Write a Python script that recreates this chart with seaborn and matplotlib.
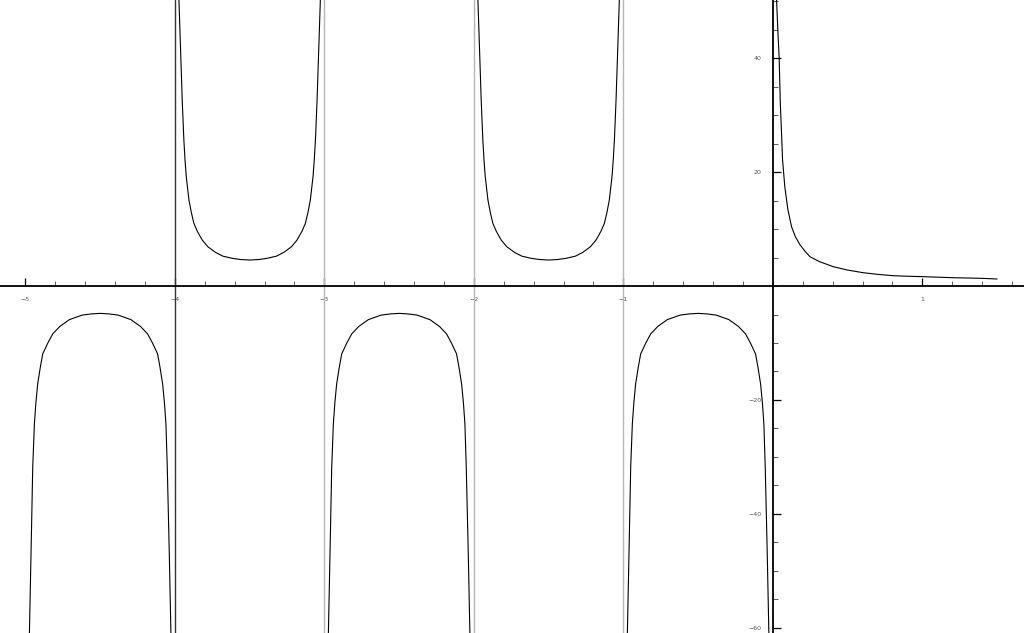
import numpy as np
import pandas as pd
import matplotlib
matplotlib.use("Agg")
import matplotlib.pyplot as plt
import seaborn as sns

# values, one list pair per branch
b1_x = [-4.975, -4.973, -4.962, -4.951, -4.940, -4.930, -4.918, -4.900, -4.884, -4.850,
        -4.817, -4.770, -4.706, -4.620, -4.560, -4.500, -4.440, -4.380, -4.294,
        -4.230, -4.183, -4.150, -4.116, -4.100, -4.082, -4.070, -4.060, -4.051,
        -4.038, -4.027, -4.025]
b1_y = [-63.0, -60.5, -46.4, -31.8, -24.2, -20.5, -17.2, -14.2, -11.9, -10.0,
        -8.4, -7.1, -5.9, -5.1, -4.9, -4.8, -4.9, -5.1, -5.9,
        -7.1, -8.4, -10.0, -11.9, -14.2, -17.2, -20.5, -24.2, -31.8,
        -46.4, -60.5, -63.0]

b2_x = [-3.975, -3.973, -3.962, -3.951, -3.940, -3.932, -3.924, -3.906, -3.890, -3.873,
        -3.850, -3.817, -3.780, -3.728, -3.680, -3.617, -3.560, -3.500, -3.440,
        -3.383, -3.320, -3.272, -3.220, -3.183, -3.150, -3.127, -3.110, -3.094,
        -3.076, -3.068, -3.060, -3.049, -3.038, -3.027, -3.025]
b2_y = [53.0, 50.2, 41.4, 32.6, 25.6, 22.0, 19.2, 15.1, 12.9, 11.0,
        9.6, 8.07, 6.9, 5.9, 5.25, 4.86, 4.65, 4.56, 4.65,
        4.86, 5.25, 5.9, 6.9, 8.07, 9.6, 11.0, 12.9, 15.1,
        19.2, 22.0, 25.6, 32.6, 41.4, 50.2, 53.0]

b3_x = [-2.975, -2.973, -2.962, -2.951, -2.940, -2.930, -2.918, -2.900, -2.884, -2.850,
        -2.817, -2.770, -2.706, -2.620, -2.560, -2.500, -2.440, -2.380, -2.294,
        -2.230, -2.183, -2.150, -2.116, -2.100, -2.082, -2.070, -2.060, -2.051,
        -2.038, -2.027, -2.025]
b3_y = [-63.0, -60.5, -46.4, -31.8, -24.2, -20.5, -17.2, -14.2, -11.9, -10.0,
        -8.4, -7.1, -5.9, -5.1, -4.9, -4.8, -4.9, -5.1, -5.9,
        -7.1, -8.4, -10.0, -11.9, -14.2, -17.2, -20.5, -24.2, -31.8,
        -46.4, -60.5, -63.0]

b4_x = [-1.975, -1.973, -1.962, -1.951, -1.940, -1.932, -1.924, -1.906, -1.890, -1.873,
        -1.850, -1.817, -1.780, -1.728, -1.680, -1.617, -1.560, -1.500, -1.440,
        -1.383, -1.320, -1.272, -1.220, -1.183, -1.150, -1.127, -1.110, -1.094,
        -1.076, -1.068, -1.060, -1.049, -1.038, -1.027, -1.025]
b4_y = [53.0, 50.2, 41.4, 32.6, 25.6, 22.0, 19.2, 15.1, 12.9, 11.0,
        9.6, 8.07, 6.9, 5.9, 5.25, 4.86, 4.65, 4.56, 4.65,
        4.86, 5.25, 5.9, 6.9, 8.07, 9.6, 11.0, 12.9, 15.1,
        19.2, 22.0, 25.6, 32.6, 41.4, 50.2, 53.0]

b5_x = [-0.975, -0.973, -0.962, -0.951, -0.940, -0.930, -0.918, -0.900, -0.884, -0.850,
        -0.817, -0.770, -0.706, -0.620, -0.560, -0.500, -0.440, -0.380, -0.294,
        -0.230, -0.183, -0.150, -0.116, -0.100, -0.082, -0.070, -0.060, -0.051,
        -0.038, -0.027, -0.025]
b5_y = [-63.0, -60.5, -46.4, -31.8, -24.2, -20.5, -17.2, -14.2, -11.9, -10.0,
        -8.4, -7.1, -5.9, -5.1, -4.9, -4.8, -4.9, -5.1, -5.9,
        -7.1, -8.4, -10.0, -11.9, -14.2, -17.2, -20.5, -24.2, -31.8,
        -46.4, -60.5, -63.0]

b6_x = [0.023, 0.025, 0.033, 0.042, 0.050, 0.058, 0.065, 0.080, 0.100, 0.125, 0.150,
        0.180, 0.215, 0.248, 0.310, 0.404, 0.500, 0.604, 0.700, 0.805, 0.900,
        1.006, 1.206, 1.407, 1.500]
b6_y = [53.0, 50.2, 45.0, 40.2, 32.0, 26.8, 22.1, 17.4, 13.5, 10.4, 8.7,
        7.3, 6.1, 5.15, 4.3, 3.39, 2.8, 2.34, 2.05, 1.81, 1.72,
        1.64, 1.46, 1.34, 1.23]

asymptotes = [-4, -3, -2, -1]
x_ticks = [-5, -4, -3, -2, -1, 1]
y_ticks = [-60, -40, -20, 20, 40]

branches = [(b1_x, b1_y), (b2_x, b2_y), (b3_x, b3_y),
            (b4_x, b4_y), (b5_x, b5_y), (b6_x, b6_y)]

sns.set_style("white")
fig = plt.figure(figsize=(10.24, 6.33), dpi=100)
ax = fig.add_axes([0, 0, 1, 1])

# asymptote lines
for a in asymptotes:
    col = "#333333" if a == -4 else "#b5b5b5"
    ax.axvline(a, color=col, lw=1.0, zorder=1)

# curve branches
for bx, by in branches:
    df = pd.DataFrame({"x": bx, "y": by})
    sns.lineplot(data=df, x="x", y="y", ax=ax, color="black", lw=0.8,
                 sort=False, estimator=None, zorder=3)

ax.set_xlim(-5.17, 1.68)
ax.set_ylim(-60.9, 50.2)
ax.set_xlabel("")
ax.set_ylabel("")

# axes through the origin
ax.spines["left"].set_position(("data", 0))
ax.spines["bottom"].set_position(("data", 0))
ax.spines["top"].set_visible(False)
ax.spines["right"].set_visible(False)
for s in ["left", "bottom"]:
    ax.spines[s].set_color("black")
    ax.spines[s].set_linewidth(1.3)

ax.set_xticks(x_ticks)
ax.set_xticklabels([f"\u2212{abs(t)}" if t < 0 else str(t) for t in x_ticks])
ax.set_xticks(np.arange(-5.0, 1.61, 0.2), minor=True)
ax.set_yticks(y_ticks)
ax.set_yticklabels([f"\u2212{abs(t)}" if t < 0 else str(t) for t in y_ticks])
ax.set_yticks(np.arange(-60, 51, 5), minor=True)

ax.tick_params(which="major", direction="in", length=6, width=0.9,
               colors="black", labelsize=4.5, labelcolor="#555555", pad=8)
ax.tick_params(which="minor", direction="in", length=3.5, width=0.6,
               colors="#444444")
ax.tick_params(axis="x", which="both", bottom=True)
ax.tick_params(axis="y", which="both", left=True)

fig.savefig("out.png", dpi=100)
